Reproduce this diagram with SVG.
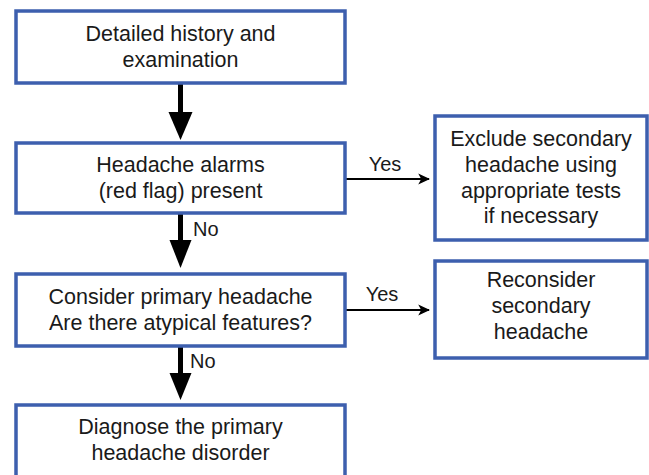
<svg xmlns="http://www.w3.org/2000/svg" width="649" height="475" viewBox="0 0 649 475">
<style>
.box{fill:#fff;stroke:#3d5fae;stroke-width:3.5}
.t{font-family:"Liberation Sans",Arial,sans-serif;font-size:21.5px;fill:#1a1a1a;text-anchor:middle}
.l{font-family:"Liberation Sans",Arial,sans-serif;font-size:20px;fill:#1a1a1a}
.thick{stroke:#000;stroke-width:5;fill:none}
.thin{stroke:#000;stroke-width:2;fill:none}
</style>
<defs>
<marker id="sm" viewBox="0 0 10 10" refX="9" refY="5" markerWidth="6" markerHeight="6" orient="auto" markerUnits="strokeWidth">
<path d="M0,0.5 L10,5 L0,9.5 L2.5,5 Z" fill="#000"/>
</marker>
</defs>
<rect width="649" height="475" fill="#fff"/>
<g id="connectors">
<line class="thick" x1="180.5" y1="83" x2="180.5" y2="115"/>
<polygon points="168.5,112 192.5,112 180.5,140" fill="#000"/>
<line class="thick" x1="180.5" y1="213" x2="180.5" y2="243"/>
<polygon points="169.5,240 191.5,240 180.5,268" fill="#000"/>
<text class="l" x="193" y="236">No</text>
<line class="thick" x1="180.5" y1="346" x2="180.5" y2="376"/>
<polygon points="169.5,373 191.5,373 180.5,400" fill="#000"/>
<text class="l" x="190" y="368">No</text>
<line class="thin" x1="345" y1="179" x2="429" y2="179" marker-end="url(#sm)"/>
<text class="l" x="385" y="171" text-anchor="middle">Yes</text>
<line class="thin" x1="345" y1="310" x2="429" y2="310" marker-end="url(#sm)"/>
<text class="l" x="382" y="301" text-anchor="middle">Yes</text>
</g>
<g id="n1">
<rect class="box" x="16" y="11" width="329" height="72"/>
<text class="t" x="180.5" y="41">Detailed history and</text>
<text class="t" x="180.5" y="67">examination</text>
</g>
<g id="n2">
<rect class="box" x="16" y="143" width="329" height="70"/>
<text class="t" x="180.5" y="172">Headache alarms</text>
<text class="t" x="180.5" y="198">(red flag) present</text>
</g>
<g id="n3">
<rect class="box" x="16" y="274" width="329" height="72"/>
<text class="t" x="180.5" y="304">Consider primary headache</text>
<text class="t" x="180.5" y="330">Are there atypical features?</text>
</g>
<g id="n4">
<rect class="box" x="16" y="405" width="329" height="75"/>
<text class="t" x="180.5" y="434">Diagnose the primary</text>
<text class="t" x="180.5" y="460">headache disorder</text>
</g>
<g id="n5">
<rect class="box" x="435" y="116" width="212" height="124"/>
<text class="t" x="541" y="146">Exclude secondary</text>
<text class="t" x="541" y="172">headache using</text>
<text class="t" x="541" y="198">appropriate tests</text>
<text class="t" x="541" y="223">if necessary</text>
</g>
<g id="n6">
<rect class="box" x="435" y="261" width="212" height="97"/>
<text class="t" x="541" y="287">Reconsider</text>
<text class="t" x="541" y="313">secondary</text>
<text class="t" x="541" y="339">headache</text>
</g>
</svg>
